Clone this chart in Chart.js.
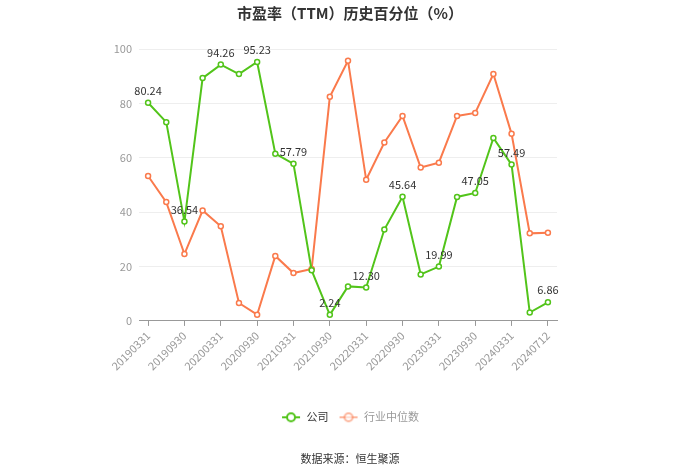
<!DOCTYPE html>
<html><head><meta charset="utf-8">
<script src="https://cdn.jsdelivr.net/npm/chart.js@4/dist/chart.umd.min.js"></script>
<style>html,body{margin:0;padding:0;background:#fff}#wrap{width:700px;height:474px}</style>
</head><body><div id="wrap"><canvas id="c" width="700" height="474"></canvas></div>
<script>
const categories = ["20190331","20190630","20190930","20191231","20200331","20200630","20200930","20201231","20210331","20210630","20210930","20211231","20220331","20220630","20220930","20221231","20230331","20230630","20230930","20231231","20240331","20240630","20240712"];
const companyValues = [80.24,73.1,36.54,89.3,94.26,90.8,95.23,61.5,57.79,18.6,2.24,12.7,12.30,33.6,45.64,17.1,19.99,45.6,47.05,67.3,57.49,3.1,6.86];
const industryValues = [53.3,43.7,24.6,40.6,34.8,6.6,2.3,23.9,17.6,19.1,82.4,95.7,51.9,65.6,75.4,56.4,58.2,75.4,76.5,90.8,68.8,32.2,32.4];
const yTicks = [0,20,40,60,80,100];
const seriesNames = ["公司","行业中位数"];
const titleText = "市盈率（TTM）历史百分位（%）";
const sourceText = "数据来源：恒生聚源";

const GREEN = '#52c41a', ORANGE = '#fa7a4c';
const FONT = '"Noto Sans CJK SC","Noto Sans",sans-serif';

function legendIcon(color, alpha){
  const cv = document.createElement('canvas');
  cv.width = 20; cv.height = 12;
  const g = cv.getContext('2d');
  g.globalAlpha = alpha;
  g.strokeStyle = color; g.lineWidth = 2;
  g.beginPath(); g.moveTo(1,6); g.lineTo(19,6); g.stroke();
  g.fillStyle = '#fff';
  g.beginPath(); g.arc(10,6,4,0,Math.PI*2); g.fill(); g.stroke();
  return cv;
}

const labelPlugin = {
  id: 'valLabels',
  afterDatasetsDraw(chart){
    const ctx = chart.ctx;
    const meta = chart.getDatasetMeta(0);
    ctx.save();
    ctx.font = '11px ' + FONT;
    ctx.fillStyle = '#333';
    ctx.textAlign = 'center';
    ctx.textBaseline = 'middle';
    meta.data.forEach((pt, i) => {
      if (i % 2 === 0) ctx.fillText(companyValues[i].toFixed(2), pt.x, pt.y - 12);
    });
    ctx.restore();
  }
};

new Chart(document.getElementById('c'), {
  type: 'line',
  data: {
    labels: categories,
    datasets: [
      {label: seriesNames[0], data: companyValues, borderColor: GREEN, backgroundColor: '#fff',
       borderWidth: 2, pointRadius: 2.5, pointBorderWidth: 1.5, pointBackgroundColor: '#fff', pointBorderColor: GREEN, tension: 0},
      {label: seriesNames[1], data: industryValues, borderColor: ORANGE, backgroundColor: '#fff',
       borderWidth: 2, pointRadius: 2.5, pointBorderWidth: 1.5, pointBackgroundColor: '#fff', pointBorderColor: ORANGE, tension: 0}
    ]
  },
  options: {
    responsive: false,
    animation: false,
    layout: {padding: {left: 0, right: 0, top: 4, bottom: 4}},
    scales: {
      x: {
        offset: true,
        afterFit: (s) => { s.height += 26; },
        grid: {offset: false, drawOnChartArea: false, drawTicks: true, tickLength: 5,
               color: (c) => (c.index % 2 === 0 ? '#999' : 'rgba(0,0,0,0)')},
        border: {display: true, color: '#999', width: 1},
        ticks: {autoSkip: false, maxRotation: 45, minRotation: 45, color: '#999',
                font: {size: 11, family: FONT},
                callback: function(v, i){ return i % 2 === 0 ? categories[i] : ''; }}
      },
      y: {
        min: 0, max: 100,
        afterFit: (s) => { s.width = 139; },
        afterBuildTicks: (s) => { s.ticks = yTicks.map(v => ({value: v})); },
        grid: {color: '#eeeeee', drawTicks: false},
        border: {display: false},
        ticks: {color: '#999', font: {size: 11, family: FONT}, padding: 7}
      },
      yRight: {
        position: 'right', min: 0, max: 100,
        afterFit: (s) => { s.width = 143; },
        grid: {display: false, drawOnChartArea: false},
        border: {display: false},
        ticks: {display: false}
      }
    },
    plugins: {
      title: {display: true, text: titleText, color: '#333', font: {size: 15, weight: 'bold', family: FONT}, padding: {top: 0, bottom: 27}},
      subtitle: {display: true, position: 'bottom', text: sourceText, color: '#333', font: {size: 11, family: FONT}, padding: {top: 19, bottom: 5}},
      legend: {
        position: 'bottom',
        labels: {
          usePointStyle: true, pointStyleWidth: 20, boxHeight: 12, padding: 10,
          font: {size: 11, family: FONT},
          generateLabels(chart){
            return chart.data.datasets.map((ds, i) => ({
              text: ds.label, datasetIndex: i, hidden: false,
              pointStyle: legendIcon(ds.borderColor, i === 0 ? 1 : 0.55),
              fontColor: i === 0 ? '#333' : '#999',
              fillStyle: '#fff', strokeStyle: ds.borderColor, lineWidth: 0
            }));
          }
        }
      },
      tooltip: {enabled: false}
    }
  },
  plugins: [labelPlugin]
});
</script></body></html>
